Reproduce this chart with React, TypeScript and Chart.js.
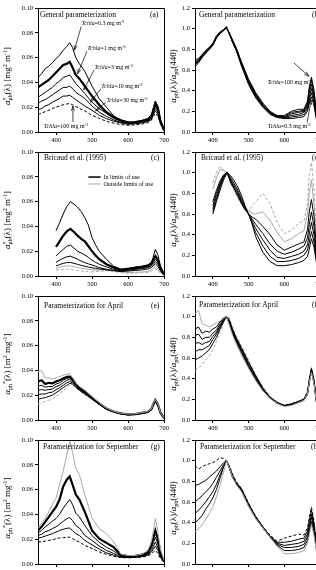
import React, { useEffect, useRef } from "react";
import { Chart, registerables } from "chart.js";
Chart.register(...registerables);

const FONT = "'Liberation Serif', 'Times New Roman', serif";

// wavelength grids (nm)
const W_FULL = [350,360,370,380,390,400,410,420,430,438,446,455,465,480,500,520,540,560,580,600,620,640,655,665,670,676,683,690,700];
const W_BRIC = [400,410,420,430,440,450,460,470,480,490,500,510,520,540,560,580,600,620,640,655,665,670,676,683,690,700];

const X_TICKS = [400, 500, 600, 700];
const Y_TICKS_ABS = [0, 0.02, 0.04, 0.06, 0.08, 0.10];
const Y_TICKS_NORM = [0, 0.2, 0.4, 0.6, 0.8, 1.0, 1.2];

// (a) general parameterization, a*ph
const genA03 = [.044,.047,.051,.053,.056,.059,.062,.066,.069,.072,.068,.060,.055,.049,.037,.027,.020,.013,.009,.0075,.008,.0095,.011,.014,.019,.025,.021,.010,.002];
const genA1 = [.036,.038,.040,.042,.045,.048,.051,.054,.055,.0565,.052,.046,.043,.037,.029,.022,.016,.012,.0095,.0078,.008,.009,.010,.012,.017,.023,.019,.009,.0015];
const genA3 = [.028,.030,.032,.034,.036,.039,.041,.044,.045,.046,.043,.039,.036,.031,.024,.019,.015,.011,.0087,.0073,.0076,.0084,.0095,.0115,.016,.021,.017,.008,.0012];
const genA10 = [.023,.025,.026,.028,.030,.032,.034,.036,.036,.037,.035,.032,.030,.027,.021,.016,.0127,.0098,.0078,.0068,.0072,.0080,.0090,.011,.015,.0188,.016,.0075,.001];
const genA30 = [.018,.019,.021,.022,.024,.0255,.027,.029,.029,.0297,.028,.026,.024,.021,.0175,.0135,.0108,.0087,.0073,.0062,.0066,.0074,.0084,.010,.014,.017,.0145,.007,.001];
const genA100 = [.0143,.015,.0165,.0175,.019,.020,.021,.022,.0225,.023,.022,.0205,.019,.017,.0135,.011,.0086,.0072,.006,.0054,.0058,.0065,.0075,.0095,.0125,.015,.013,.0065,.001];

// (b) general parameterization, normalized
const genN03 = [0.70,0.71,0.75,0.79,0.82,0.86,0.93,0.97,0.99,1.02,0.95,0.87,0.79,0.64,0.46,0.33,0.24,0.17,0.14,0.13,0.13,0.14,0.15,0.20,0.28,0.34,0.26,0.12,0.03];
const genN1 = [0.68,0.70,0.74,0.78,0.81,0.85,0.92,0.96,0.99,1.02,0.95,0.87,0.80,0.65,0.47,0.34,0.25,0.18,0.145,0.135,0.145,0.155,0.17,0.22,0.31,0.38,0.29,0.14,0.03];
const genN3 = [0.67,0.69,0.74,0.78,0.81,0.85,0.92,0.96,0.99,1.01,0.95,0.88,0.80,0.66,0.48,0.35,0.25,0.18,0.15,0.14,0.16,0.17,0.19,0.24,0.34,0.42,0.32,0.15,0.03];
const genN10 = [0.66,0.69,0.73,0.77,0.81,0.85,0.92,0.96,0.99,1.01,0.96,0.88,0.81,0.66,0.49,0.36,0.26,0.19,0.15,0.145,0.175,0.19,0.20,0.26,0.38,0.46,0.35,0.17,0.03];
const genN30 = [0.65,0.68,0.73,0.77,0.80,0.84,0.91,0.96,0.98,1.01,0.96,0.89,0.81,0.67,0.50,0.37,0.27,0.19,0.155,0.15,0.19,0.20,0.21,0.28,0.41,0.50,0.38,0.18,0.04];
const genN100 = [0.63,0.67,0.72,0.76,0.80,0.84,0.91,0.95,0.98,1.01,0.96,0.89,0.82,0.68,0.51,0.38,0.28,0.20,0.16,0.16,0.20,0.22,0.22,0.30,0.44,0.53,0.41,0.20,0.04];

// (c) Bricaud et al. (1995), a*ph
const bricA1 = [.0365,.043,.050,.056,.060,.058,.0555,.052,.047,.041,.031,.025,.020,.0135,.008,.0055,.006,.0072,.008,.009,.011,.015,.0215,.017,.008,.002];
const bricA2 = [.0235,.028,.0325,.036,.038,.0355,.0325,.030,.028,.024,.020,.0165,.0135,.0095,.0068,.005,.0058,.0066,.0073,.0082,.0098,.013,.016,.013,.0065,.0015];
const bricA3 = [.016,.019,.0215,.024,.025,.0225,.020,.0185,.017,.015,.0127,.011,.0095,.0073,.0055,.0043,.0052,.006,.0068,.0075,.009,.011,.0135,.011,.0055,.0012];
const bricA4 = [.011,.0128,.0143,.0155,.016,.0148,.0135,.012,.0108,.0098,.0089,.0078,.0068,.0054,.0045,.0038,.0046,.0053,.006,.0067,.008,.0095,.0116,.0095,.005,.001];
const bricA5 = [.0081,.0092,.0102,.0108,.011,.0102,.0094,.0086,.0079,.0072,.0066,.0061,.0057,.005,.0043,.0037,.0040,.0045,.005,.0056,.0068,.0082,.0098,.0078,.004,.001];
const bricAOut1 = [.0062,.007,.0078,.0082,.0081,.0075,.0068,.0063,.0058,.0053,.0050,.0049,.0048,.0049,.0044,.0034,.0028,.003,.0033,.0036,.0048,.0064,.0075,.0057,.0028,.0008];
const bricAOut2 = [.0046,.0051,.0055,.0055,.0053,.0047,.0043,.0040,.0037,.0034,.0033,.0036,.0038,.0042,.0037,.0028,.0022,.0023,.0027,.0028,.0037,.0052,.0058,.0045,.0022,.0006];

// (d) Bricaud et al. (1995), normalized
const bricN1 = [.60,.72,.83,.93,1.0,.97,.92,.86,.78,.68,.60,.50,.38,.23,.14,.10,.10,.11,.13,.15,.19,.26,.36,.28,.13,.03];
const bricN2 = [.62,.74,.86,.95,1.0,.95,.89,.83,.75,.67,.60,.51,.42,.29,.19,.14,.14,.15,.17,.20,.25,.33,.43,.33,.16,.04];
const bricN3 = [.65,.77,.88,.96,1.0,.93,.87,.81,.73,.66,.60,.53,.46,.35,.25,.18,.17,.19,.21,.24,.30,.41,.52,.40,.19,.05];
const bricN4 = [.68,.80,.90,.97,1.0,.92,.85,.79,.71,.65,.60,.55,.50,.41,.31,.24,.21,.23,.26,.29,.37,.50,.62,.48,.23,.06];
const bricN5 = [.72,.83,.92,.98,1.0,.90,.84,.77,.70,.64,.60,.57,.55,.48,.40,.30,.25,.28,.31,.33,.45,.62,.74,.58,.28,.07];
const bricNOut1 = [.84,.95,1.03,1.02,1.0,.92,.85,.79,.73,.67,.63,.61,.60,.62,.54,.42,.33,.36,.41,.44,.60,.80,.93,.70,.35,.10];
const bricNOut2 = [.90,1.0,1.06,1.03,1.0,.90,.82,.75,.70,.65,.63,.68,.72,.80,.70,.52,.41,.44,.51,.53,.70,.98,1.10,.85,.42,.12];

// (e) April, a*ph
const aprA1 = [.039,.040,.034,.034,.033,.034,.035,.036,.037,.0375,.034,.030,.027,.024,.019,.014,.0095,.007,.0055,.0048,.005,.006,.0068,.009,.013,.0165,.013,.006,.0015];
const aprA2 = [.031,.032,.029,.030,.0295,.031,.032,.0335,.0348,.035,.033,.029,.026,.023,.018,.0135,.0092,.0068,.0053,.0045,.0048,.0058,.0066,.0088,.0125,.016,.0125,.006,.0015];
const aprA3 = [.0275,.028,.0265,.027,.027,.029,.030,.032,.0335,.034,.032,.0285,.0255,.0225,.0178,.0133,.009,.0067,.0052,.0044,.0047,.0056,.0064,.0086,.0122,.0157,.0123,.0058,.0014];
const aprA4 = [.024,.0245,.024,.0245,.025,.027,.028,.030,.032,.0328,.031,.028,.025,.022,.0175,.013,.0088,.0066,.0051,.0043,.0046,.0055,.0063,.0085,.012,.0155,.012,.0057,.0014];
const aprA5 = [.0205,.021,.021,.022,.0225,.0245,.026,.028,.030,.031,.030,.027,.0245,.0215,.017,.0128,.0087,.0065,.005,.0042,.0045,.0054,.0062,.0083,.0118,.0152,.0118,.0056,.0014];
const aprA6 = [.0167,.0175,.018,.019,.020,.022,.024,.026,.028,.0295,.029,.0265,.024,.021,.0168,.0126,.0086,.0064,.0049,.0041,.0044,.0053,.0061,.0082,.0116,.015,.0116,.0055,.0013];
const aprA7 = [.013,.014,.015,.016,.017,.019,.021,.0235,.026,.028,.028,.026,.0235,.0205,.0165,.0124,.0085,.0063,.0048,.004,.0043,.0052,.006,.008,.0113,.0147,.0113,.0054,.0013];

// (f) April, normalized
const aprN1 = [1.03,1.06,.93,.92,.90,.92,.94,.96,.99,1.0,.92,.82,.74,.63,.50,.38,.28,.21,.16,.13,.14,.17,.19,.25,.36,.46,.36,.17,.05];
const aprN2 = [.88,.90,.84,.86,.85,.88,.90,.95,.99,1.0,.93,.84,.76,.65,.51,.39,.29,.21,.16,.135,.145,.17,.19,.25,.36,.47,.36,.17,.05];
const aprN3 = [.82,.83,.78,.80,.80,.84,.87,.93,.98,1.0,.94,.85,.77,.66,.52,.40,.29,.21,.165,.14,.15,.17,.19,.25,.37,.48,.37,.18,.05];
const aprN4 = [.74,.75,.73,.75,.76,.81,.85,.91,.97,1.0,.95,.86,.78,.68,.53,.41,.30,.22,.165,.14,.15,.175,.195,.26,.37,.48,.37,.18,.05];
const aprN5 = [.66,.68,.68,.70,.72,.78,.83,.90,.96,1.0,.96,.87,.79,.69,.55,.42,.30,.22,.17,.14,.155,.18,.20,.26,.38,.49,.38,.18,.05];
const aprN6 = [.58,.60,.62,.65,.68,.74,.80,.88,.95,1.0,.97,.88,.80,.70,.56,.43,.31,.22,.17,.14,.155,.18,.20,.27,.39,.50,.39,.19,.05];
const aprN7 = [.48,.50,.54,.58,.62,.68,.76,.85,.94,1.0,.99,.90,.82,.72,.58,.44,.32,.23,.175,.145,.16,.185,.21,.28,.40,.51,.40,.19,.05];

// (g) September, a*ph
const sepA1 = [.0285,.033,.037,.042,.048,.053,.064,.075,.088,.099,.090,.077,.072,.056,.037,.0285,.0245,.018,.008,.0068,.0068,.008,.011,.018,.026,.0367,.026,.012,.003];
const sepA2 = [.027,.030,.034,.038,.042,.046,.052,.0625,.068,.0707,.064,.056,.052,.042,.027,.0204,.017,.0136,.0073,.0063,.0066,.0075,.0095,.015,.0204,.027,.020,.009,.0025];
const sepA3 = [.025,.027,.030,.032,.0345,.0367,.040,.045,.049,.052,.048,.041,.038,.031,.023,.0175,.0136,.0105,.0063,.0058,.006,.0068,.0085,.013,.017,.0217,.016,.0075,.002];
const sepA4 = [.023,.024,.026,.027,.0285,.030,.032,.0345,.0365,.0375,.035,.031,.029,.023,.019,.0145,.011,.0085,.0058,.0055,.0057,.0064,.0078,.011,.014,.0177,.013,.0065,.0018];
const sepA5 = [.021,.0215,.0225,.0235,.0245,.0258,.027,.028,.0288,.029,.027,.0245,.023,.019,.0155,.012,.009,.0072,.0054,.0052,.0054,.006,.0072,.0095,.0118,.0144,.011,.0055,.0015];
const sepA6 = [.0177,.018,.0185,.019,.0195,.0204,.021,.0213,.0215,.0217,.0205,.019,.0178,.015,.0125,.0098,.0078,.0062,.0051,.005,.0052,.0057,.0065,.0083,.0095,.0109,.0085,.0045,.0013];

// (h) September, normalized
const sepN1 = [.31,.34,.38,.43,.49,.55,.65,.76,.89,1.0,.93,.84,.77,.70,.56,.44,.35,.26,.17,.10,.10,.11,.13,.20,.28,.38,.28,.13,.03];
const sepN2 = [.40,.43,.47,.53,.58,.64,.72,.83,.94,1.0,.93,.84,.78,.71,.56,.44,.35,.26,.18,.13,.13,.14,.16,.23,.31,.41,.31,.14,.04];
const sepN3 = [.49,.52,.56,.60,.65,.70,.77,.86,.94,1.0,.93,.84,.78,.72,.57,.45,.35,.26,.19,.16,.16,.17,.19,.26,.35,.45,.34,.16,.04];
const sepN4 = [.60,.63,.66,.70,.73,.78,.84,.90,.96,1.0,.94,.85,.78,.72,.58,.45,.36,.27,.20,.18,.19,.20,.22,.29,.38,.48,.36,.17,.05];
const sepN5 = [.76,.77,.79,.81,.84,.87,.90,.94,.98,1.0,.94,.86,.79,.73,.58,.46,.36,.27,.21,.21,.22,.24,.25,.32,.42,.52,.39,.19,.05];
const sepN6 = [.95,.92,.94,.96,.97,.98,1.0,1.03,1.02,1.0,.95,.87,.80,.73,.59,.46,.36,.28,.22,.25,.27,.29,.28,.35,.45,.55,.42,.20,.06];

type Seg = { t: string; sup?: boolean; sub?: boolean; it?: boolean; hold?: boolean };

const STYLE: Record<string, any> = {
  k: { borderColor: "#000", borderWidth: 1 },
  K: { borderColor: "#000", borderWidth: 2.2 },
  g: { borderColor: "#a6a6a6", borderWidth: 1 },
  kd: { borderColor: "#000", borderWidth: 1, borderDash: [3, 2] },
  gd: { borderColor: "#a6a6a6", borderWidth: 1, borderDash: [3, 2] },
};

const tchla = (v: string): Seg[] => [{ t: "Tchla", it: true }, { t: "=" + v + " mg m" }, { t: "-3", sup: true }];

const Y_ABS1: Seg[] = [{ t: "a", it: true }, { t: "*", sup: true, hold: true }, { t: "ph", sub: true }, { t: "(λ) [mg" }, { t: "2", sup: true }, { t: " m" }, { t: "-1", sup: true }, { t: "]" }];
const Y_ABS2: Seg[] = [{ t: "a", it: true }, { t: "ph", sub: true }, { t: "*", sup: true }, { t: "(λ) [m" }, { t: "2", sup: true }, { t: " mg" }, { t: "-1", sup: true }, { t: "]" }];
const Y_NORM: Seg[] = [{ t: "a", it: true }, { t: "ph", sub: true }, { t: "(λ)/" }, { t: "a", it: true }, { t: "ph", sub: true }, { t: "(440)" }];

function drawRich(ctx: CanvasRenderingContext2D, segs: Seg[], x: number, y: number, size: number, rot: number, align: "left" | "center") {
  ctx.save();
  ctx.translate(x, y);
  ctx.rotate(rot);
  const parts = segs.map((s) => {
    const sz = s.sup || s.sub ? size * 0.68 : size;
    const font = `${s.it ? "italic " : ""}${sz}px ${FONT}`;
    ctx.font = font;
    return { ...s, font, w: ctx.measureText(s.t).width };
  });
  const total = parts.reduce((a, p) => a + (p.hold ? 0 : p.w), 0);
  let cx = align === "center" ? -total / 2 : 0;
  ctx.textBaseline = "alphabetic";
  ctx.textAlign = "left";
  ctx.fillStyle = "#000";
  for (const p of parts) {
    ctx.font = p.font;
    const dy = p.sup ? -size * 0.38 : p.sub ? size * 0.22 : 0;
    ctx.fillText(p.t, cx, size * 0.33 + dy);
    if (!p.hold) cx += p.w;
  }
  ctx.restore();
}

function arrow(ctx: CanvasRenderingContext2D, x1: number, y1: number, x2: number, y2: number) {
  ctx.beginPath();
  ctx.moveTo(x1, y1);
  ctx.lineTo(x2, y2);
  const a = Math.atan2(y2 - y1, x2 - x1);
  const L = 5;
  ctx.moveTo(x2, y2);
  ctx.lineTo(x2 - L * Math.cos(a - 0.3), y2 - L * Math.sin(a - 0.3));
  ctx.moveTo(x2, y2);
  ctx.lineTo(x2 - L * Math.cos(a + 0.3), y2 - L * Math.sin(a + 0.3));
  ctx.stroke();
}

type Ann = { x: number; y: number; segs: Seg[]; ax1: number; ay1: number; ax2: number; ay2: number };

type Panel = {
  left: number; top: number; right: boolean; norm: boolean;
  series: { w: number[]; v: number[]; st: string }[];
  title: string; titleDx: number; titleDy: number; tag: string; tagDx: number;
  yTitle: Seg[]; ann?: Ann[]; legend?: boolean;
};

const PANELS: Panel[] = [
  {
    left: 0, top: 0, right: false, norm: false, title: "General parameterization", titleDx: 2, titleDy: 7, tag: "(a)", tagDx: 112, yTitle: Y_ABS1,
    series: [
      { w: W_FULL, v: genA03, st: "k" }, { w: W_FULL, v: genA1, st: "K" }, { w: W_FULL, v: genA3, st: "k" },
      { w: W_FULL, v: genA10, st: "k" }, { w: W_FULL, v: genA30, st: "k" }, { w: W_FULL, v: genA100, st: "kd" },
    ],
    ann: [
      { x: 471, y: 0.0875, segs: tchla("0.3"), ax1: 470, ay1: 0.085, ax2: 451, ay2: 0.066 },
      { x: 487, y: 0.0677, segs: tchla("1"), ax1: 486, ay1: 0.065, ax2: 460, ay2: 0.047 },
      { x: 507, y: 0.0524, segs: tchla("3"), ax1: 506, ay1: 0.050, ax2: 477, ay2: 0.034 },
      { x: 526, y: 0.037, segs: tchla("10"), ax1: 525, ay1: 0.035, ax2: 496, ay2: 0.024 },
      { x: 540, y: 0.0258, segs: tchla("30"), ax1: 539, ay1: 0.024, ax2: 510, ay2: 0.017 },
      { x: 366, y: 0.0048, segs: tchla("100"), ax1: 447, ay1: 0.008, ax2: 447, ay2: 0.021 },
    ],
  },
  {
    left: 158, top: 0, right: true, norm: true, title: "General parameterization", titleDx: 4, titleDy: 7, tag: "(b)", tagDx: 117, yTitle: Y_NORM,
    series: [
      { w: W_FULL, v: genN03, st: "k" }, { w: W_FULL, v: genN1, st: "k" }, { w: W_FULL, v: genN3, st: "k" },
      { w: W_FULL, v: genN10, st: "k" }, { w: W_FULL, v: genN30, st: "k" }, { w: W_FULL, v: genN100, st: "k" },
    ],
    ann: [
      { x: 553, y: 0.485, segs: tchla("100"), ax1: 627, ay1: 0.668, ax2: 669, ay2: 0.54 },
      { x: 554, y: 0.058, segs: tchla("0.3"), ax1: 664, ay1: 0.09, ax2: 675, ay2: 0.31 },
    ],
  },
  {
    left: 0, top: 144, right: false, norm: false, title: "Bricaud et al. (1995)", titleDx: 6, titleDy: 6, tag: "(c)", tagDx: 113, yTitle: Y_ABS1, legend: true,
    series: [
      { w: W_BRIC, v: bricA1, st: "k" }, { w: W_BRIC, v: bricA2, st: "K" }, { w: W_BRIC, v: bricA3, st: "k" },
      { w: W_BRIC, v: bricA4, st: "k" }, { w: W_BRIC, v: bricA5, st: "k" }, { w: W_BRIC, v: bricAOut1, st: "g" }, { w: W_BRIC, v: bricAOut2, st: "gd" },
    ],
  },
  {
    left: 158, top: 144, right: true, norm: true, title: "Bricaud et al. (1995)", titleDx: 6, titleDy: 6, tag: "(d)", tagDx: 117, yTitle: Y_NORM,
    series: [
      { w: W_BRIC, v: bricN1, st: "k" }, { w: W_BRIC, v: bricN2, st: "k" }, { w: W_BRIC, v: bricN3, st: "k" },
      { w: W_BRIC, v: bricN4, st: "k" }, { w: W_BRIC, v: bricN5, st: "k" }, { w: W_BRIC, v: bricNOut1, st: "g" }, { w: W_BRIC, v: bricNOut2, st: "gd" },
    ],
  },
  {
    left: 0, top: 288, right: false, norm: false, title: "Parameterization for April", titleDx: 6, titleDy: 10, tag: "(e)", tagDx: 113, yTitle: Y_ABS2,
    series: [
      { w: W_FULL, v: aprA1, st: "g" }, { w: W_FULL, v: aprA2, st: "K" }, { w: W_FULL, v: aprA3, st: "k" }, { w: W_FULL, v: aprA4, st: "k" },
      { w: W_FULL, v: aprA5, st: "k" }, { w: W_FULL, v: aprA6, st: "k" }, { w: W_FULL, v: aprA7, st: "gd" },
    ],
  },
  {
    left: 158, top: 288, right: true, norm: true, title: "Parameterization for April", titleDx: 4, titleDy: 9, tag: "(f)", tagDx: 117, yTitle: Y_NORM,
    series: [
      { w: W_FULL, v: aprN1, st: "g" }, { w: W_FULL, v: aprN2, st: "k" }, { w: W_FULL, v: aprN3, st: "k" }, { w: W_FULL, v: aprN4, st: "k" },
      { w: W_FULL, v: aprN5, st: "k" }, { w: W_FULL, v: aprN6, st: "k" }, { w: W_FULL, v: aprN7, st: "gd" },
    ],
  },
  {
    left: 0, top: 432, right: false, norm: false, title: "Parameterization for September", titleDx: 5, titleDy: 7, tag: "(g)", tagDx: 113, yTitle: Y_ABS2,
    series: [
      { w: W_FULL, v: sepA1, st: "g" }, { w: W_FULL, v: sepA2, st: "K" }, { w: W_FULL, v: sepA3, st: "k" },
      { w: W_FULL, v: sepA4, st: "k" }, { w: W_FULL, v: sepA5, st: "k" }, { w: W_FULL, v: sepA6, st: "kd" },
    ],
  },
  {
    left: 158, top: 432, right: true, norm: true, title: "Parameterization for September", titleDx: 5, titleDy: 7, tag: "(h)", tagDx: 116, yTitle: Y_NORM,
    series: [
      { w: W_FULL, v: sepN1, st: "g" }, { w: W_FULL, v: sepN2, st: "k" }, { w: W_FULL, v: sepN3, st: "k" },
      { w: W_FULL, v: sepN4, st: "k" }, { w: W_FULL, v: sepN5, st: "k" }, { w: W_FULL, v: sepN6, st: "kd" },
    ],
  },
];

const PAD_TOP = 8;
const PLOT_H = 124;
const X_AXIS_H = 14;
const PAD_RIGHT = 12;

function PanelChart({ p }: { p: Panel }) {
  const ref = useRef<HTMLCanvasElement>(null);
  const yW = p.right ? 37 : 38;
  const plotW = p.right ? 125 : 126;
  const cw = yW + plotW + PAD_RIGHT;
  const ch = PAD_TOP + PLOT_H + X_AXIS_H;
  useEffect(() => {
    const canvas = ref.current!;
    const yTicks = p.norm ? Y_TICKS_NORM : Y_TICKS_ABS;
    const dec = p.norm ? 1 : 2;
    const decor = {
      id: "decor",
      afterDraw(chart: any) {
        const ctx: CanvasRenderingContext2D = chart.ctx;
        const ca = chart.chartArea;
        const xs = chart.scales.x;
        const ys = chart.scales.y;
        ctx.save();
        ctx.strokeStyle = "#000";
        ctx.lineWidth = 1;
        ctx.beginPath();
        ctx.moveTo(ca.left, Math.round(ca.top) + 0.5);
        ctx.lineTo(Math.round(ca.right) + 0.5, Math.round(ca.top) + 0.5);
        ctx.lineTo(Math.round(ca.right) + 0.5, ca.bottom);
        ctx.stroke();
        ctx.fillStyle = "#000";
        ctx.textBaseline = "middle";
        ctx.textAlign = "left";
        ctx.font = `7.5px ${FONT}`;
        ctx.fillText(p.title, ca.left + p.titleDx, ca.top + p.titleDy);
        ctx.fillText(p.tag, ca.left + p.tagDx, ca.top + p.titleDy);
        drawRich(ctx, p.yTitle, p.right ? 15 : 7.5, (ca.top + ca.bottom) / 2 + 6, 9, -Math.PI / 2, "center");
        if (p.ann) {
          ctx.lineWidth = 0.7;
          for (const a of p.ann) {
            drawRich(ctx, a.segs, xs.getPixelForValue(a.x), ys.getPixelForValue(a.y), 6, 0, "left");
            arrow(ctx, xs.getPixelForValue(a.ax1), ys.getPixelForValue(a.ay1), xs.getPixelForValue(a.ax2), ys.getPixelForValue(a.ay2));
          }
        }
        if (p.legend) {
          const x1 = xs.getPixelForValue(490), x2 = xs.getPixelForValue(524), xt = xs.getPixelForValue(532);
          const y1 = ys.getPixelForValue(0.0798), y2 = ys.getPixelForValue(0.0742);
          ctx.lineWidth = 1.5;
          ctx.strokeStyle = "#000";
          ctx.beginPath(); ctx.moveTo(x1, y1); ctx.lineTo(x2, y1); ctx.stroke();
          ctx.lineWidth = 1;
          ctx.strokeStyle = "#a6a6a6";
          ctx.beginPath(); ctx.moveTo(x1, y2); ctx.lineTo(x2, y2); ctx.stroke();
          ctx.font = `6px ${FONT}`;
          ctx.fillStyle = "#000";
          ctx.fillText("In limits of use", xt, y1);
          ctx.fillText("Outside limits of use", xt, y2);
        }
        ctx.restore();
      },
    };
    const chart = new Chart(canvas, {
      type: "line",
      data: {
        datasets: p.series.map((s) => ({
          data: s.w.map((w, i) => ({ x: w, y: s.v[i] })),
          ...STYLE[s.st],
          fill: false,
          pointRadius: 0,
          tension: 0,
        })),
      },
      options: {
        animation: false,
        responsive: false,
        devicePixelRatio: 1,
        events: [],
        layout: { padding: { top: PAD_TOP, right: PAD_RIGHT, left: 0, bottom: 0 } },
        plugins: { legend: { display: false }, tooltip: { enabled: false } },
        scales: {
          x: {
            type: "linear",
            min: 350,
            max: 700,
            afterBuildTicks: (s: any) => { s.ticks = X_TICKS.map((v) => ({ value: v })); },
            afterFit: (s: any) => { s.height = X_AXIS_H; },
            grid: { display: true, drawOnChartArea: false, drawTicks: true, tickLength: 3, color: "#000", lineWidth: 1 },
            border: { display: true, color: "#000", width: 1 },
            ticks: { font: { family: FONT, size: 6.5 }, color: "#000", padding: 1, maxRotation: 0, autoSkip: false },
          },
          y: {
            type: "linear",
            min: 0,
            max: p.norm ? 1.2 : 0.1,
            afterBuildTicks: (s: any) => { s.ticks = yTicks.map((v) => ({ value: v })); },
            afterFit: (s: any) => { s.width = yW; },
            grid: { display: true, drawOnChartArea: false, drawTicks: true, tickLength: 3, color: "#000", lineWidth: 1 },
            border: { display: true, color: "#000", width: 1 },
            ticks: { font: { family: FONT, size: 6.5 }, color: "#000", padding: 2, autoSkip: false, callback: (v: any) => Number(v).toFixed(dec) },
          },
        },
      } as any,
      plugins: [decor],
    });
    return () => chart.destroy();
  }, []);
  return (
    <canvas
      ref={ref}
      width={cw}
      height={ch}
      style={{ position: "absolute", left: p.left, top: p.top, width: cw, height: ch }}
    />
  );
}

export default function App() {
  return (
    <div style={{ position: "absolute", left: 0, top: 0, width: 316, height: 570, overflow: "hidden", background: "#fff" }}>
      {PANELS.map((p, i) => (
        <PanelChart key={i} p={p} />
      ))}
    </div>
  );
}
